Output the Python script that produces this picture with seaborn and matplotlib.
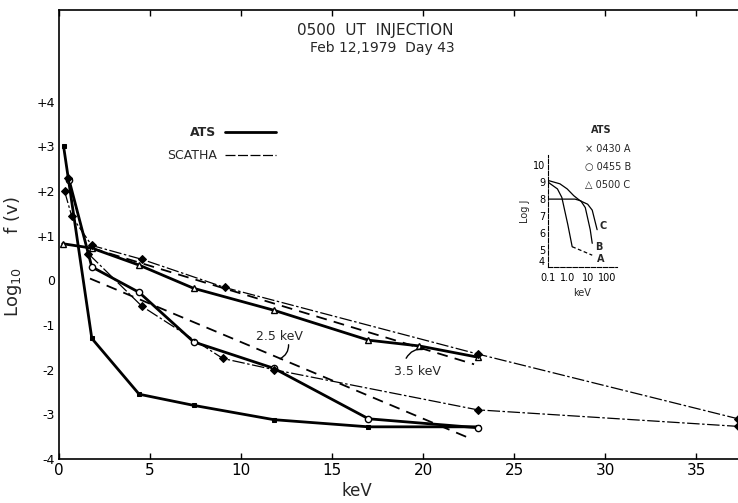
import numpy as np
import pandas as pd
import matplotlib
matplotlib.use("Agg")
import matplotlib.pyplot as plt
import seaborn as sns

sns.set_theme(style="white")
plt.rcParams['font.family'] = ['DejaVu Sans']

# ---------------- data ----------------
ats_A_kev = [0.25, 1.8, 4.4, 7.4, 11.8, 17.0, 23.0]
ats_A_logf = [3.0, -1.3, -2.55, -2.8, -3.12, -3.28, -3.28]

ats_B_kev = [0.55, 1.8, 4.4, 7.4, 11.8, 17.0, 23.0]
ats_B_logf = [2.25, 0.3, -0.27, -1.38, -1.97, -3.1, -3.3]

ats_C_kev = [0.2, 1.8, 4.4, 7.4, 11.8, 17.0, 19.8, 23.0]
ats_C_logf = [0.82, 0.72, 0.34, -0.18, -0.67, -1.34, -1.47, -1.72]

scatha_up_kev = [0.3, 0.7, 1.8, 4.55, 9.1, 23.0, 37.3]
scatha_up_logf = [2.0, 1.43, 0.78, 0.47, -0.16, -1.65, -3.1]

scatha_lo_kev = [0.5, 1.6, 4.55, 9.0, 11.8, 23.0, 37.3]
scatha_lo_logf = [2.3, 0.6, -0.58, -1.75, -2.0, -2.9, -3.27]

fit25_kev = [1.7, 22.7]
fit25_logf = [0.04, -3.56]
fit35_kev = [1.8, 22.8]
fit35_logf = [0.72, -1.88]

x_ticks = [0, 5, 10, 15, 20, 25, 30, 35]
y_ticks = [-4, -3, -2, -1, 0, 1, 2, 3, 4]
y_ticklabels = ['-4', '-3', '-2', '-1', '0', '+1', '+2', '+3', '+4']

# inset (log J vs keV)
inset_A_kev = [0.1, 0.3, 0.5, 1.0, 1.66]
inset_A_logj = [9.0, 8.6, 8.1, 6.5, 5.2]
inset_A_tail_kev = [1.66, 17]
inset_A_tail_logj = [5.2, 4.7]
inset_B_kev = [0.1, 2.3, 4.5, 7.6, 13.5, 17.0]
inset_B_logj = [8.0, 8.0, 7.9, 7.5, 6.2, 5.4]
inset_C_kev = [0.1, 0.4, 0.93, 2.0, 4.2, 10.0, 17.0, 30.0]
inset_C_logj = [9.1, 8.9, 8.6, 8.2, 7.9, 7.7, 7.35, 6.2]
inset_xticks = [0.1, 1.0, 10, 100]
inset_xticklabels = ['0.1', '1.0', '10', '100']
inset_yticks = [4, 5, 6, 7, 8, 9, 10]

# ---------------- figure ----------------
fig = plt.figure(figsize=(7.38, 5.03), dpi=100)
ax = fig.add_axes([0.080, 0.0875, 0.92, 0.8925])
ax.set_facecolor('white')

thick = dict(color='black', lw=2.0, estimator=None, sort=False, legend=False)
thin = dict(color='black', lw=0.9, estimator=None, sort=False, legend=False)

sns.lineplot(x=ats_A_kev, y=ats_A_logf, ax=ax, marker='s', markersize=3.5,
             markerfacecolor='black', markeredgecolor='black', **thick)
sns.lineplot(x=ats_B_kev, y=ats_B_logf, ax=ax, marker='o', markersize=4.5,
             markerfacecolor='white', markeredgecolor='black', markeredgewidth=1.0, **thick)
sns.lineplot(x=ats_C_kev, y=ats_C_logf, ax=ax, marker='^', markersize=5,
             markerfacecolor='white', markeredgecolor='black', markeredgewidth=1.0, **thick)

sns.lineplot(x=scatha_up_kev, y=scatha_up_logf, ax=ax, marker='D', markersize=4,
             markerfacecolor='black', markeredgecolor='black', **thin)
sns.lineplot(x=scatha_lo_kev, y=scatha_lo_logf, ax=ax, marker='D', markersize=4,
             markerfacecolor='black', markeredgecolor='black', **thin)
for line in ax.lines[-2:]:
    line.set_dashes([10, 2, 2, 2])

sns.lineplot(x=fit25_kev, y=fit25_logf, ax=ax, color='black', lw=1.3, estimator=None,
             sort=False, legend=False)
ax.lines[-1].set_dashes([6, 4])
sns.lineplot(x=fit35_kev, y=fit35_logf, ax=ax, color='black', lw=1.3, estimator=None,
             sort=False, legend=False)
ax.lines[-1].set_dashes([6, 4])

ax.set_xlim(0, 37.3)
ax.set_ylim(-4, 6.05)
ax.set_xticks(x_ticks)
ax.set_yticks(y_ticks)
ax.set_yticklabels(y_ticklabels)
ax.tick_params(axis='both', direction='in', length=4, width=1, colors='black', pad=3)
ax.tick_params(axis='x', labelsize=11)
ax.tick_params(axis='y', labelsize=9)
ax.xaxis.set_ticks_position('both')
for side in ['left', 'bottom', 'top']:
    ax.spines[side].set_visible(True)
    ax.spines[side].set_color('black')
    ax.spines[side].set_linewidth(1.2)
ax.spines['right'].set_visible(False)
ax.grid(False)

ax.set_xlabel('keV', fontsize=12)
ax.xaxis.set_label_coords(0.439, -0.052)
ax.set_ylabel('Log$_{10}$      f (v)', fontsize=13)
ax.yaxis.set_label_coords(-0.052, 0.45)

# titles
ax.text(0.350, 0.955, '0500  UT  INJECTION', transform=ax.transAxes, ha='left',
        va='center', fontsize=11)
ax.text(0.370, 0.915, 'Feb 12,1979  Day 43', transform=ax.transAxes, ha='left',
        va='center', fontsize=10)

# legend (hand-laid)
ax.text(0.232, 0.728, 'ATS', transform=ax.transAxes, ha='right', va='center',
        fontsize=9, fontweight='bold')
ax.plot([0.245, 0.32], [0.728, 0.728], transform=ax.transAxes, color='black', lw=2.0)
ax.text(0.232, 0.677, 'SCATHA', transform=ax.transAxes, ha='right', va='center',
        fontsize=9)
l, = ax.plot([0.245, 0.32], [0.677, 0.677], transform=ax.transAxes, color='black', lw=0.9)
l.set_dashes([8, 2])

# fit annotations
ax.text(12.1, -1.25, '2.5 keV', ha='center', va='center', fontsize=9)
ax.annotate('', xy=(12.0, -1.78), xytext=(12.6, -1.38),
            arrowprops=dict(arrowstyle='-', color='black', lw=1,
                            connectionstyle='arc3,rad=-0.4'))
ax.text(19.7, -2.05, '3.5 keV', ha='center', va='center', fontsize=9)
ax.annotate('', xy=(20.2, -1.55), xytext=(19.0, -1.8),
            arrowprops=dict(arrowstyle='-', color='black', lw=1,
                            connectionstyle='arc3,rad=-0.4'))

# ---------------- inset ----------------
ins = fig.add_axes([0.7425, 0.469, 0.0935, 0.223])
ins.set_facecolor('none')
sns.lineplot(x=inset_A_kev, y=inset_A_logj, ax=ins, color='black', lw=0.9,
             estimator=None, sort=False, legend=False)
sns.lineplot(x=inset_A_tail_kev, y=inset_A_tail_logj, ax=ins, color='black', lw=0.9,
             estimator=None, sort=False, legend=False)
ins.lines[-1].set_dashes([3, 2])
sns.lineplot(x=inset_B_kev, y=inset_B_logj, ax=ins, color='black', lw=0.9,
             estimator=None, sort=False, legend=False)
sns.lineplot(x=inset_C_kev, y=inset_C_logj, ax=ins, color='black', lw=0.9,
             estimator=None, sort=False, legend=False)
ins.set_xscale('log')
ins.set_xlim(0.1, 300)
ins.set_ylim(4, 10.6)
ins.set_xticks(inset_xticks)
ins.set_xticklabels(inset_xticklabels)
ins.minorticks_off()
ins.set_yticks(inset_yticks)
ins.tick_params(axis='both', direction='in', length=2, width=0.8, labelsize=7,
                colors='black')
ins.tick_params(axis='x', pad=4)
ins.tick_params(axis='y', pad=2)
ins.get_yticklabels()[0].set_verticalalignment('bottom')
for side in ['top', 'right']:
    ins.spines[side].set_visible(False)
for side in ['left', 'bottom']:
    ins.spines[side].set_color('black')
    ins.spines[side].set_linewidth(0.8)
    ins.spines[side].set_linestyle((0, (4, 1.5)))
ins.set_xlabel('keV', fontsize=7, labelpad=4)
ins.set_ylabel('Log J', fontsize=7, labelpad=2)
ins.text(28, 4.45, 'A', fontsize=7, fontweight='bold', ha='left', va='center')
ins.text(24, 5.2, 'B', fontsize=7, fontweight='bold', ha='left', va='center')
ins.text(38, 6.4, 'C', fontsize=7, fontweight='bold', ha='left', va='center')

# inset legend
fig.text(0.815, 0.742, 'ATS', fontsize=7, fontweight='bold', ha='center', va='center')
fig.text(0.793, 0.704, '\u00d7 0430 A', fontsize=7, ha='left', va='center')
fig.text(0.793, 0.668, '\u25cb 0455 B', fontsize=7, ha='left', va='center')
fig.text(0.793, 0.632, '\u25b3 0500 C', fontsize=7, ha='left', va='center')

fig.savefig('out.png', dpi=100, facecolor='white')
